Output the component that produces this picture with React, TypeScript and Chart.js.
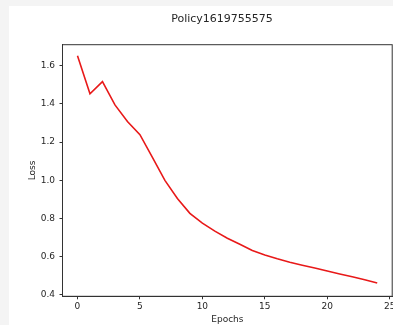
import React, { useEffect, useRef } from "react";
import { Chart, registerables } from "chart.js";

Chart.register(...registerables);

const TITLE = "Policy1619755575";
const X_LABEL = "Epochs";
const Y_LABEL = "Loss";

const epochs = [0, 1, 2, 3, 4, 5, 6, 7, 8, 9, 10, 11, 12, 13, 14, 15, 16, 17, 18, 19, 20, 21, 22, 23, 24];
const loss = [
  1.652, 1.453, 1.517, 1.395, 1.308, 1.239, 1.12, 1.0, 0.905, 0.827, 0.776, 0.734, 0.697,
  0.665, 0.633, 0.609, 0.589, 0.571, 0.556, 0.541, 0.525, 0.51, 0.495, 0.48, 0.463,
];
const xTicks = [0, 5, 10, 15, 20, 25];
const yTicks = [0.4, 0.6, 0.8, 1.0, 1.2, 1.4, 1.6];

const AXIS = "#333333";
const TEXT = "#262626";
const FONT = "'DejaVu Sans', sans-serif";

export default function App() {
  const ref = useRef<HTMLCanvasElement>(null);

  useEffect(() => {
    document.body.style.margin = "0";
    const canvas = ref.current!;

    const framePlugin = {
      id: "frame",
      afterDatasetsDraw(chart: any) {
        const { ctx, chartArea: a } = chart;
        ctx.save();
        ctx.strokeStyle = AXIS;
        ctx.lineWidth = 1;
        ctx.strokeRect(a.left, a.top, a.right - a.left, a.bottom - a.top);
        ctx.restore();
      },
    };
    const titlePlugin = {
      id: "figTitle",
      afterDraw(chart: any) {
        const ctx = chart.ctx;
        ctx.save();
        ctx.fillStyle = TEXT;
        ctx.font = `11px ${FONT}`;
        ctx.textAlign = "center";
        ctx.textBaseline = "alphabetic";
        ctx.fillText(TITLE, 222, 21.5);
        ctx.restore();
      },
    };

    const chart = new Chart(canvas, {
      type: "line",
      data: {
        datasets: [
          {
            label: Y_LABEL,
            data: epochs.map((e, i) => ({ x: e, y: loss[i] })),
            borderColor: "#e81919",
            borderWidth: 1.6,
            pointRadius: 0,
            fill: false,
            tension: 0,
          },
        ],
      },
      options: {
        animation: false,
        responsive: false,
        devicePixelRatio: 1,
        layout: { padding: { left: 0, right: 27.8, top: 44.7, bottom: 0 } },
        plugins: { legend: { display: false }, tooltip: { enabled: false }, title: { display: false } },
        scales: {
          x: {
            type: "linear",
            position: "bottom",
            min: -1.2,
            max: 25.2,
            afterBuildTicks: (s: any) => {
              s.ticks = xTicks.map((v) => ({ value: v }));
            },
            afterFit: (s: any) => {
              s.height = 28.7;
            },
            ticks: {
              autoSkip: false,
              maxRotation: 0,
              padding: 2,
              color: TEXT,
              font: { family: FONT, size: 9 },
              callback: (v: any) => String(v),
            },
            grid: { display: true, drawOnChartArea: false, drawTicks: true, tickLength: 3, color: AXIS, lineWidth: 1 },
            border: { display: true, color: AXIS, width: 1 },
            title: { display: true, text: X_LABEL, color: TEXT, font: { family: FONT, size: 9 }, padding: { top: 0, bottom: 0 } },
          },
          y: {
            type: "linear",
            position: "left",
            min: 0.393,
            max: 1.71,
            afterBuildTicks: (s: any) => {
              s.ticks = yTicks.map((v) => ({ value: v }));
            },
            afterFit: (s: any) => {
              s.width = 62.5;
            },
            ticks: {
              autoSkip: false,
              padding: 4.5,
              color: TEXT,
              font: { family: FONT, size: 9 },
              callback: (v: any) => Number(v).toFixed(1),
            },
            grid: { display: true, drawOnChartArea: false, drawTicks: true, tickLength: 3, color: AXIS, lineWidth: 1 },
            border: { display: true, color: AXIS, width: 1 },
            title: { display: true, text: Y_LABEL, color: TEXT, font: { family: FONT, size: 9 }, padding: { top: 27.6, bottom: 0 } },
          },
        },
      },
      plugins: [framePlugin, titlePlugin],
    } as any);

    return () => chart.destroy();
  }, []);

  return (
    <div style={{ position: "fixed", left: 0, top: 0, width: 393, height: 325, overflow: "hidden", background: "#f4f4f4" }}>
      <div style={{ position: "absolute", left: 9, top: 6, right: 0, bottom: 0, background: "#ffffff" }} />
      <canvas ref={ref} width={420} height={325} style={{ position: "absolute", left: 0, top: 0, width: 420, height: 325 }} />
    </div>
  );
}
